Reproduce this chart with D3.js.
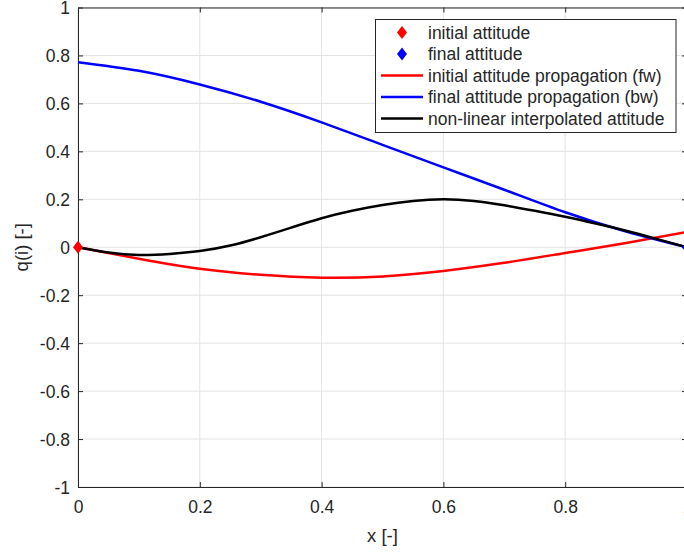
<!DOCTYPE html>
<html>
<head>
<meta charset="utf-8">
<script src="https://cdn.jsdelivr.net/npm/d3@7"></script>
<style>
  body { margin: 0; background: #fff; }
  text { font-family: "Liberation Sans", Arial, sans-serif; fill: #262626; }
</style>
</head>
<body>
<div class="chart"></div>
<script>
// values
let xTicks = [0, 0.2, 0.4, 0.6, 0.8, 1];
let yTicks = [-1, -0.8, -0.6, -0.4, -0.2, 0, 0.2, 0.4, 0.6, 0.8, 1];

let xs = [0, 0.1, 0.2, 0.3, 0.4, 0.5, 0.6, 0.7, 0.8, 0.9, 1];
let fwVals = [0, -0.048, -0.09, -0.115, -0.127, -0.122, -0.099, -0.065, -0.024, 0.018, 0.064];
let bwVals = [0.772, 0.736, 0.679, 0.607, 0.521, 0.427, 0.333, 0.24, 0.146, 0.066, 0];

let xsFine = [0, 0.05, 0.1, 0.15, 0.2, 0.25, 0.3, 0.35, 0.4, 0.45, 0.5, 0.55, 0.6, 0.65, 0.7, 0.75, 0.8, 0.85, 0.9, 0.95, 1];
let interpVals = [0, -0.022, -0.032, -0.028, -0.016, 0.007, 0.042, 0.082, 0.121, 0.152, 0.176, 0.193, 0.2, 0.193, 0.175, 0.152, 0.127, 0.099, 0.069, 0.035, 0];

let initialPt = [0, 0];
let finalPt = [1, 0];

let legendNames = ['initial attitude', 'final attitude', 'initial attitude propagation (fw)', 'final attitude propagation (bw)', 'non-linear interpolated attitude'];
let legendColors = ['#ff0000', '#0000ff', '#ff0000', '#0000ff', '#000000'];
let legendKinds = ['marker', 'marker', 'line', 'line', 'line'];

var width = 684, height = 553;
var margin = {left: 78, top: 7.5, right: -3, bottom: 66};

// matlab style labels, plain hyphen for minus
let fmt = d => String(d);

let svg = d3.select('.chart').append('svg')
    .attr('width', width)
    .attr('height', height);

let xScale = d3.scaleLinear().domain([0, 1]).range([margin.left, width - margin.right]);
let yScale = d3.scaleLinear().domain([-1, 1]).range([height - margin.bottom, margin.top]);

// grid
let grid = svg.append('g');
xTicks.forEach(t => {
    grid.append('line')
        .attr('x1', xScale(t)).attr('x2', xScale(t))
        .attr('y1', yScale(-1)).attr('y2', yScale(1))
        .attr('stroke', '#e3e3e3').attr('stroke-width', 1);
});
yTicks.forEach(t => {
    grid.append('line')
        .attr('x1', xScale(0)).attr('x2', xScale(1))
        .attr('y1', yScale(t)).attr('y2', yScale(t))
        .attr('stroke', '#e3e3e3').attr('stroke-width', 1);
});

// axes
let xAxis = svg.append('g')
    .attr('transform', `translate(0,${yScale(-1)})`)
    .call(d3.axisBottom(xScale).tickValues(xTicks).tickSizeInner(-5).tickSizeOuter(0).tickPadding(14).tickFormat(fmt));
let xAxisTop = svg.append('g')
    .attr('transform', `translate(0,${yScale(1)})`)
    .call(d3.axisTop(xScale).tickValues(xTicks).tickSizeInner(-5).tickSizeOuter(0).tickFormat(''));
let yAxis = svg.append('g')
    .attr('transform', `translate(${xScale(0)},0)`)
    .call(d3.axisLeft(yScale).tickValues(yTicks).tickSizeInner(-5).tickSizeOuter(0).tickPadding(8).tickFormat(fmt));
let yAxisRight = svg.append('g')
    .attr('transform', `translate(${xScale(1)},0)`)
    .call(d3.axisRight(yScale).tickValues(yTicks).tickSizeInner(-5).tickSizeOuter(0).tickFormat(''));

[xAxis, xAxisTop, yAxis, yAxisRight].forEach(a => {
    a.selectAll('path, line').attr('stroke', '#262626').attr('stroke-width', 1);
    a.selectAll('text').attr('font-size', 17.5).attr('fill', '#262626')
        .style('font-family', '"Liberation Sans", Arial, sans-serif');
});
yAxis.selectAll('text').attr('dy', '0.35em');

svg.append('text')
    .attr('x', xScale(0.5)).attr('y', 542)
    .attr('text-anchor', 'middle').attr('font-size', 18.5)
    .text('x [-]');
svg.append('text')
    .attr('transform', `translate(28,${yScale(0)}) rotate(-90)`)
    .attr('text-anchor', 'middle').attr('font-size', 18.5)
    .text('q(i) [-]');

// curves
let lineCoarse = d3.line()
    .x((d, i) => xScale(xs[i]))
    .y(d => yScale(d))
    .curve(d3.curveNatural);
let lineFine = d3.line()
    .x((d, i) => xScale(xsFine[i]))
    .y(d => yScale(d))
    .curve(d3.curveNatural);

let plot = svg.append('g');
plot.append('path').datum(fwVals).attr('d', lineCoarse)
    .attr('fill', 'none').attr('stroke', '#ff0000').attr('stroke-width', 2.5);
plot.append('path').datum(bwVals).attr('d', lineCoarse)
    .attr('fill', 'none').attr('stroke', '#0000ff').attr('stroke-width', 2.5);
plot.append('path').datum(interpVals).attr('d', lineFine)
    .attr('fill', 'none').attr('stroke', '#000000').attr('stroke-width', 2.5);

let diamond = 'M0,-6.5L5,0L0,6.5L-5,0Z';
plot.append('path').attr('d', diamond)
    .attr('transform', `translate(${xScale(finalPt[0])},${yScale(finalPt[1])})`)
    .attr('fill', '#0000ff');
plot.append('path').attr('d', diamond)
    .attr('transform', `translate(${xScale(initialPt[0])},${yScale(initialPt[1])})`)
    .attr('fill', '#ff0000');

// legend
let legend = svg.append('g');
legend.append('rect')
    .attr('x', 375.5).attr('y', 19.5).attr('width', 300.5).attr('height', 113)
    .attr('fill', '#fff').attr('stroke', '#262626').attr('stroke-width', 1);
legendNames.forEach((name, i) => {
    let cy = 32.5 + i * 21.5;
    if (legendKinds[i] == 'marker') {
        legend.append('path').attr('d', diamond)
            .attr('transform', `translate(402,${cy})`)
            .attr('fill', legendColors[i]);
    } else {
        legend.append('line')
            .attr('x1', 381).attr('x2', 423)
            .attr('y1', cy).attr('y2', cy)
            .attr('stroke', legendColors[i]).attr('stroke-width', 2.5);
    }
    legend.append('text')
        .attr('x', 428).attr('y', cy).attr('dy', '0.35em')
        .attr('font-size', 17.5).attr('fill', '#000')
        .text(name);
});
</script>
</body>
</html>
